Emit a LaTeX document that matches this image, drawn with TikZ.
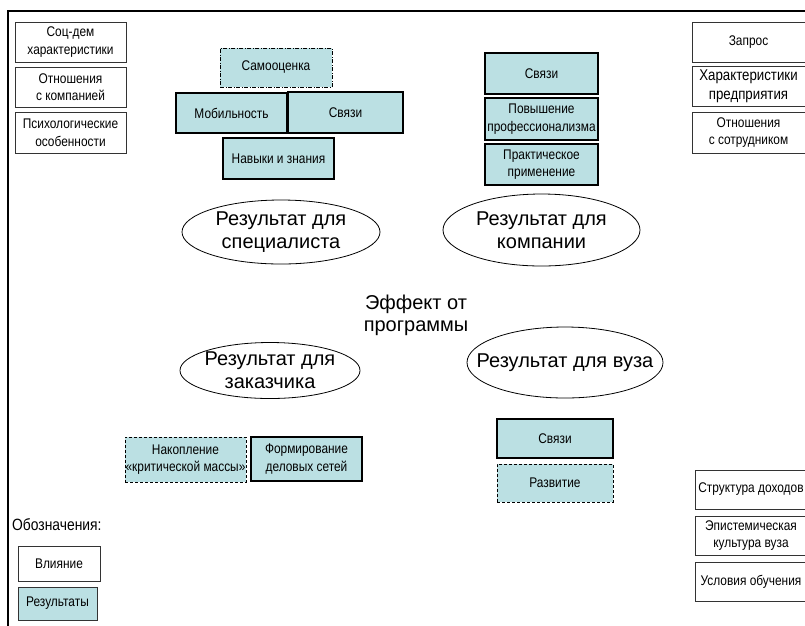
\documentclass[tikz,border=0pt]{standalone}
\usepackage{fontspec}
\setmainfont{Liberation Sans}
\newfontfamily\nf[FakeStretch=0.85]{Liberation Sans}
\usetikzlibrary{shapes.geometric}
\definecolor{teal}{RGB}{187,224,227}
\tikzset{
  base/.style={rectangle, inner sep=0pt, align=center, font=\nf\fontsize{14}{17.5}\selectfont},
  infl/.style={base, draw=black!80, line width=0.9pt, fill=white},
  resbox/.style={base, draw=black, line width=2.6pt, fill=teal},
  resdash/.style={base, draw=black, line width=0.9pt, fill=teal, dash pattern=on 3pt off 2pt},
  resdashdot/.style={base, draw=black, line width=0.9pt, fill=teal, dash pattern=on 4pt off 1.5pt on 1pt off 1.5pt},
  oval/.style={ellipse, draw=black, line width=0.8pt, inner sep=0pt},
  ovaltext/.style={inner sep=0pt, align=center, font=\fontsize{20}{23}\selectfont},
}
\begin{document}
\begin{tikzpicture}[x=1pt,y=-1pt]
\useasboundingbox (0,0) rectangle (805,625);
\fill[white] (0,0) rectangle (805,625);
\draw[line width=2.6pt] (8,627) -- (8,11) -- (807,11);
% left influence boxes
\node[infl, minimum width=111pt, minimum height=40pt] (sd) at (70.5,42) {Соц-дем\\характеристики};
\node[infl, minimum width=111pt, minimum height=40pt] (otn) at (70.5,87) {Отношения\\с компанией};
\node[infl, minimum width=111pt, minimum height=41pt] (psy) at (70.5,132.5) {Психологические\\особенности};
% right influence boxes
\node[infl, minimum width=113pt, minimum height=40pt] (zap) at (748.5,42) {Запрос};
\node[infl, minimum width=113pt, minimum height=40pt, font=\nf\fontsize{15.6}{18.5}\selectfont] (har) at (748.5,86) {Характеристики\\предприятия};
\node[infl, minimum width=113pt, minimum height=41pt] (otns) at (748.5,132.5) {Отношения\\с сотрудником};
% specialist results
\node[resdashdot, minimum width=112pt, minimum height=39pt] (samo) at (276,67.5) {Самооценка};
\node[resbox, minimum width=111pt, minimum height=40pt] (mob) at (231.5,113) {Мобильность};
\node[resbox, minimum width=115pt, minimum height=41pt] (svs) at (345.5,112.5) {Связи};
\node[resbox, minimum width=111pt, minimum height=41pt] (nav) at (278.5,158.5) {Навыки и знания};
% company results
\node[resbox, minimum width=113pt, minimum height=41pt] (svk) at (541.5,73.5) {Связи};
\node[resbox, minimum width=113pt, minimum height=42pt] (pov) at (541.5,119) {Повышение\\профессионализма};
\node[resbox, minimum width=113pt, minimum height=41pt] (pra) at (541.5,164.5) {Практическое\\применение};
% ellipses
\node[oval, minimum width=198pt, minimum height=64pt] (e1) at (281,232) {};
\node[ovaltext] (t1) at (e1) {Результат для\\специалиста};
\node[oval, minimum width=197pt, minimum height=72pt] (e2) at (541.5,230) {};
\node[ovaltext] (t2) at (e2) {Результат для\\компании};
\node[oval, minimum width=180pt, minimum height=56pt] (e3) at (270,370.5) {};
\node[ovaltext] (t3) at (e3) {Результат для\\заказчика};
\node[oval, minimum width=196pt, minimum height=71pt] (e4) at (565,362.5) {};
\node[ovaltext] (t4) at (e4) {Результат для вуза};
\node[align=center, inner sep=0pt, font=\fontsize{20}{22}\selectfont] (eff) at (416,315) {Эффект от\\программы};
% customer results
\node[resdash, minimum width=121pt, minimum height=45pt] (nak) at (185.5,459.5) {Накопление\\«критической массы»};
\node[resbox, minimum width=111pt, minimum height=44pt] (form) at (306.5,459) {Формирование\\деловых сетей};
% university results
\node[resbox, minimum width=116pt, minimum height=39pt] (svv) at (555,438.5) {Связи};
\node[resdash, minimum width=116pt, minimum height=38pt] (raz) at (555,483) {Развитие};
% university influences
\node[infl, minimum width=112pt, minimum height=39pt] (str) at (751,489.5) {Структура доходов};
\node[infl, minimum width=112pt, minimum height=39pt] (epi) at (751,535.5) {Эпистемическая\\культура вуза};
\node[infl, minimum width=112pt, minimum height=39pt] (usl) at (751,581.5) {Условия обучения};
% legend
\node[anchor=west, inner sep=0pt, font=\nf\fontsize{16.3}{19}\selectfont] (obz) at (12,525) {Обозначения:};
\node[infl, minimum width=82pt, minimum height=35pt] (vl) at (59,563.5) {Влияние};
\node[infl, fill=teal, minimum width=79pt, minimum height=33pt] (rz) at (57.5,603.5) {Результаты};
\end{tikzpicture}
\end{document}
